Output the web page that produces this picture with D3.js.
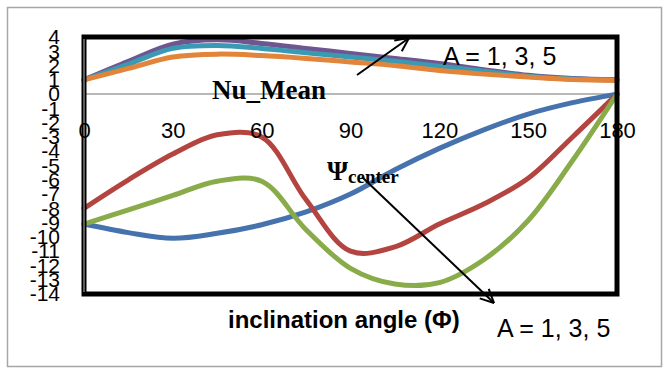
<!DOCTYPE html>
<html>
<head>
<meta charset="utf-8">
<script src="https://cdn.jsdelivr.net/npm/d3@7/dist/d3.min.js"></script>
<style>
  html, body { margin: 0; padding: 0; background: #fff; }
  svg { display: block; }
</style>
</head>
<body>
<svg id="chart" width="663" height="370"></svg>
<script>
// ---------- data ----------
const angles = [0, 15, 30, 45, 60, 75, 90, 105, 120, 135, 150, 165, 180];
const xTicks = [0, 30, 60, 90, 120, 150, 180];
const yTicks = [4, 3, 2, 1, 0, -1, -2, -3, -4, -5, -6, -7, -8, -9, -10, -11, -12, -13, -14];

// Nu_Mean for A = 1, 3, 5
const nuA1 = [1.0, 2.3, 3.5, 3.8, 3.55, 3.2, 2.85, 2.5, 2.15, 1.7, 1.32, 1.1, 1.0];
const nuA3 = [1.0, 2.1, 3.2, 3.4, 3.2, 2.9, 2.6, 2.3, 1.95, 1.6, 1.25, 1.05, 1.0];
const nuA5 = [1.0, 1.8, 2.6, 2.8, 2.7, 2.5, 2.25, 2.0, 1.65, 1.4, 1.2, 1.03, 0.95];

// psi_center for A = 1, 3, 5
const psiA1 = [-9.1, -9.7, -10.1, -9.75, -9.15, -8.25, -7.0, -5.3, -3.8, -2.5, -1.4, -0.6, 0];
const psiA3 = [-8.0, -6.0, -4.2, -2.85, -3.0, -7.4, -11.0, -10.7, -9.1, -7.7, -5.9, -3.0, 0];
const psiA5 = [-9.1, -8.1, -7.1, -6.1, -6.1, -9.5, -12.2, -13.3, -13.2, -11.6, -8.85, -4.65, 0];

const seriesList = [
  { name: "Nu A=1", values: nuA1, color: "#6f5690" },
  { name: "Nu A=3", values: nuA3, color: "#3b9ab3" },
  { name: "Nu A=5", values: nuA5, color: "#e2843a" },
  { name: "Psi A=1", values: psiA1, color: "#4673ad" },
  { name: "Psi A=3", values: psiA3, color: "#b3443f" },
  { name: "Psi A=5", values: psiA5, color: "#8aab4a" }
];

// ---------- layout ----------
const svg = d3.select("#chart");
const plot = { left: 84, right: 617, top: 37, bottom: 294 };

const x = d3.scaleLinear().domain([0, 180]).range([plot.left, plot.right]);
const y = d3.scaleLinear().domain([-14, 4]).range([plot.bottom, plot.top]);

// outer chart border
svg.append("rect")
  .attr("x", 7.5).attr("y", 7.5)
  .attr("width", 654).attr("height", 359)
  .attr("fill", "#fff")
  .attr("stroke", "#a6a6a6").attr("stroke-width", 1.5);

// zero line
svg.append("line")
  .attr("x1", plot.left).attr("x2", plot.right)
  .attr("y1", y(0)).attr("y2", y(0))
  .attr("stroke", "#a0a0a0").attr("stroke-width", 1.5);

// lines
const line = d3.line()
  .x((d, i) => x(angles[i]))
  .y(d => y(d))
  .curve(d3.curveCatmullRom.alpha(0.5));

svg.append("g").selectAll("path")
  .data(seriesList)
  .join("path")
  .attr("d", d => line(d.values))
  .attr("fill", "none")
  .attr("stroke", d => d.color)
  .attr("stroke-width", 5)
  .attr("stroke-linejoin", "round")
  .attr("stroke-linecap", "round");

// plot border
svg.append("rect")
  .attr("x", plot.left).attr("y", plot.top)
  .attr("width", plot.right - plot.left).attr("height", plot.bottom - plot.top)
  .attr("fill", "none")
  .attr("stroke", "#000").attr("stroke-width", 5);
svg.append("line")
  .attr("x1", plot.left).attr("x2", plot.left)
  .attr("y1", plot.top + 2).attr("y2", plot.bottom - 2)
  .attr("stroke", "#9a9a9a").attr("stroke-width", 1.2);

// y axis
const yAxis = d3.axisLeft(y).tickValues(yTicks).tickSize(0).tickPadding(0)
  .tickFormat(d => String(d));
const gy = svg.append("g").attr("transform", `translate(60,0)`).call(yAxis);
gy.select(".domain").remove();
gy.selectAll("text")
  .attr("font-family", "'Liberation Sans', Arial, sans-serif")
  .attr("font-size", 21)
  .attr("fill", "#000")
  .attr("x", 0);

// x axis (labels below the zero line)
const xAxis = d3.axisBottom(x).tickValues(xTicks).tickSize(0).tickFormat(d => String(d));
const gx = svg.append("g").attr("transform", `translate(0,${y(0)})`).call(xAxis);
gx.select(".domain").remove();
gx.selectAll("text")
  .attr("font-family", "'Liberation Sans', Arial, sans-serif")
  .attr("font-size", 22)
  .attr("fill", "#000")
  .attr("y", 36)
  .attr("dy", "0.35em");

// ---------- annotations ----------
function arrow(x1, y1, x2, y2) {
  const g = svg.append("g").attr("stroke", "#000").attr("stroke-width", 2).attr("fill", "none");
  g.append("line").attr("x1", x1).attr("y1", y1).attr("x2", x2).attr("y2", y2);
  const ang = Math.atan2(y2 - y1, x2 - x1);
  const len = 15, spread = 0.45;
  [ang + Math.PI - spread, ang + Math.PI + spread].forEach(a => {
    g.append("line").attr("x1", x2).attr("y1", y2)
      .attr("x2", x2 + len * Math.cos(a)).attr("y2", y2 + len * Math.sin(a));
  });
}

svg.append("text")
  .attr("x", 212).attr("y", 99)
  .attr("font-family", "'Liberation Serif', 'Times New Roman', serif")
  .attr("font-weight", "bold").attr("font-size", 27)
  .text("Nu_Mean");

arrow(357, 75, 409, 38);

svg.append("text")
  .attr("x", 443).attr("y", 65)
  .attr("font-family", "'Liberation Sans', Arial, sans-serif")
  .attr("font-size", 25)
  .text("A = 1, 3, 5");

const psi = svg.append("text")
  .attr("x", 327).attr("y", 180)
  .attr("font-family", "'Liberation Serif', 'Times New Roman', serif")
  .attr("font-weight", "bold");
psi.append("tspan").attr("font-size", 27).text("Ψ");
psi.append("tspan").attr("font-size", 19).attr("dy", 3).text("center");

arrow(362, 177, 494, 303);

svg.append("text")
  .attr("x", 228).attr("y", 328)
  .attr("font-family", "'Liberation Sans', Arial, sans-serif")
  .attr("font-weight", "bold").attr("font-size", 24)
  .text("inclination angle (Φ)");

svg.append("text")
  .attr("x", 497).attr("y", 337)
  .attr("font-family", "'Liberation Sans', Arial, sans-serif")
  .attr("font-size", 25)
  .text("A = 1, 3, 5");
</script>
</body>
</html>
